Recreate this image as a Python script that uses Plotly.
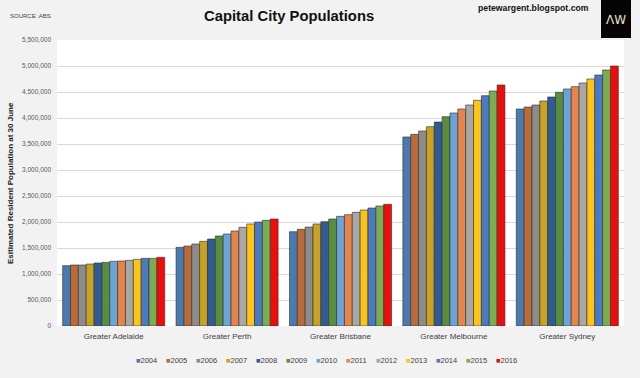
import plotly.graph_objects as go

cities = ["Greater Adelaide", "Greater Perth", "Greater Brisbane", "Greater Melbourne", "Greater Sydney"]
years = ["2004", "2005", "2006", "2007", "2008", "2009", "2010", "2011", "2012", "2013", "2014", "2015", "2016"]

adelaide = [1160000, 1173000, 1173000, 1192000, 1212000, 1224000, 1244000, 1250000, 1263000, 1282000, 1301000, 1301000, 1321000]
perth = [1513000, 1538000, 1577000, 1628000, 1673000, 1731000, 1769000, 1827000, 1897000, 1962000, 2000000, 2032000, 2058000]
brisbane = [1814000, 1859000, 1904000, 1962000, 2006000, 2058000, 2109000, 2141000, 2186000, 2231000, 2269000, 2308000, 2340000]
melbourne = [3635000, 3686000, 3750000, 3833000, 3923000, 4026000, 4096000, 4173000, 4250000, 4340000, 4429000, 4519000, 4635000]
sydney = [4173000, 4212000, 4250000, 4327000, 4404000, 4494000, 4558000, 4603000, 4673000, 4750000, 4827000, 4923000, 5000000]

colors = ["#4a7bb0", "#bb6b3a", "#8c8c8c", "#c8a220", "#305c96", "#5b8d3e", "#6ba4d8",
          "#e6844a", "#a8a8a8", "#fdc315", "#4b79c5", "#79ad50", "#ee0d0d"]

ytick_vals = [0, 500000, 1000000, 1500000, 2000000, 2500000, 3000000, 3500000, 4000000, 4500000, 5000000, 5500000]

FONT = "Liberation Sans, Arial, sans-serif"

series = [adelaide, perth, brisbane, melbourne, sydney]

fig = go.Figure()
for i, yr in enumerate(years):
    fig.add_trace(go.Bar(
        name=yr,
        x=cities,
        y=[s[i] for s in series],
        marker=dict(color=colors[i], line=dict(color="#2e2e2e", width=0.6)),
        showlegend=False,
    ))

W, H = 640, 378
ml, mr, mt, mb = 57, 16, 40, 52
pw, ph = W - ml - mr, H - mt - mb

def px_x(x):
    return (x - ml) / pw

def px_y(y):
    return (H - mb - y) / ph

annotations = []
# custom single-row legend
leg_x0 = 134
leg_step = 30
for i, yr in enumerate(years):
    annotations.append(dict(
        xref="paper", yref="paper",
        x=px_x(leg_x0 + i * leg_step), y=px_y(360),
        xanchor="left", yanchor="middle",
        text='<span style="color:%s">\u25a0</span>%s' % (colors[i], yr),
        showarrow=False,
        font=dict(family=FONT, size=7.5, color="#404040"),
    ))

annotations += [
    dict(xref="paper", yref="paper", x=px_x(8), y=px_y(16), xanchor="left", yanchor="middle",
         text="SOURCE: ABS", showarrow=False, font=dict(family=FONT, size=6, color="#404040")),
    dict(xref="paper", yref="paper", x=px_x(289), y=px_y(16), xanchor="center", yanchor="middle",
         text="<b>Capital City Populations</b>", showarrow=False,
         font=dict(family=FONT, size=14.8, color="#111111")),
    dict(xref="paper", yref="paper", x=px_x(533), y=px_y(8), xanchor="center", yanchor="middle",
         text="<b>petewargent.blogspot.com</b>", showarrow=False,
         font=dict(family=FONT, size=8.7, color="#111111")),
    dict(xref="paper", yref="paper", x=px_x(616), y=px_y(20), xanchor="center", yanchor="middle",
         text="\u039bW", showarrow=False,
         font=dict(family="DejaVu Sans ExtraLight, DejaVu Sans, sans-serif", size=12, color="#e8e2c4")),
    dict(xref="paper", yref="paper", x=px_x(10), y=0.5, xanchor="center", yanchor="middle",
         text="<b>Esitimated Resident Population at 30 June</b>", showarrow=False, textangle=-90,
         font=dict(family=FONT, size=8, color="#222222")),
]

shapes = [
    dict(type="rect", xref="paper", yref="paper",
         x0=px_x(601), x1=px_x(631), y0=px_y(0), y1=px_y(38),
         fillcolor="#050505", line=dict(width=0), layer="above"),
]

fig.update_layout(
    width=W, height=H,
    margin=dict(l=ml, r=mr, t=mt, b=mb, pad=0),
    paper_bgcolor="#f2f2f2",
    plot_bgcolor="#ffffff",
    barmode="group",
    bargap=0.1,
    bargroupgap=0,
    showlegend=False,
    font=dict(family=FONT, color="#404040"),
    annotations=annotations,
    shapes=shapes,
    xaxis=dict(
        showgrid=False, showline=False, zeroline=False,
        tickfont=dict(family=FONT, size=8, color="#404040"),
        ticks="", ticklabelstandoff=4,
        fixedrange=True,
    ),
    yaxis=dict(
        range=[0, 5500000],
        tickvals=ytick_vals,
        tickformat=",",
        showgrid=True, gridcolor="#d9d9d9", gridwidth=1,
        zeroline=False, showline=False,
        ticks="", ticklabelstandoff=5,
        tickfont=dict(family=FONT, size=6.5, color="#595959"),
        fixedrange=True,
    ),
)

fig.write_html("out.html", config={"displayModeBar": False},
               post_script="document.body.style.margin='0';document.body.style.background='#f2f2f2';")
